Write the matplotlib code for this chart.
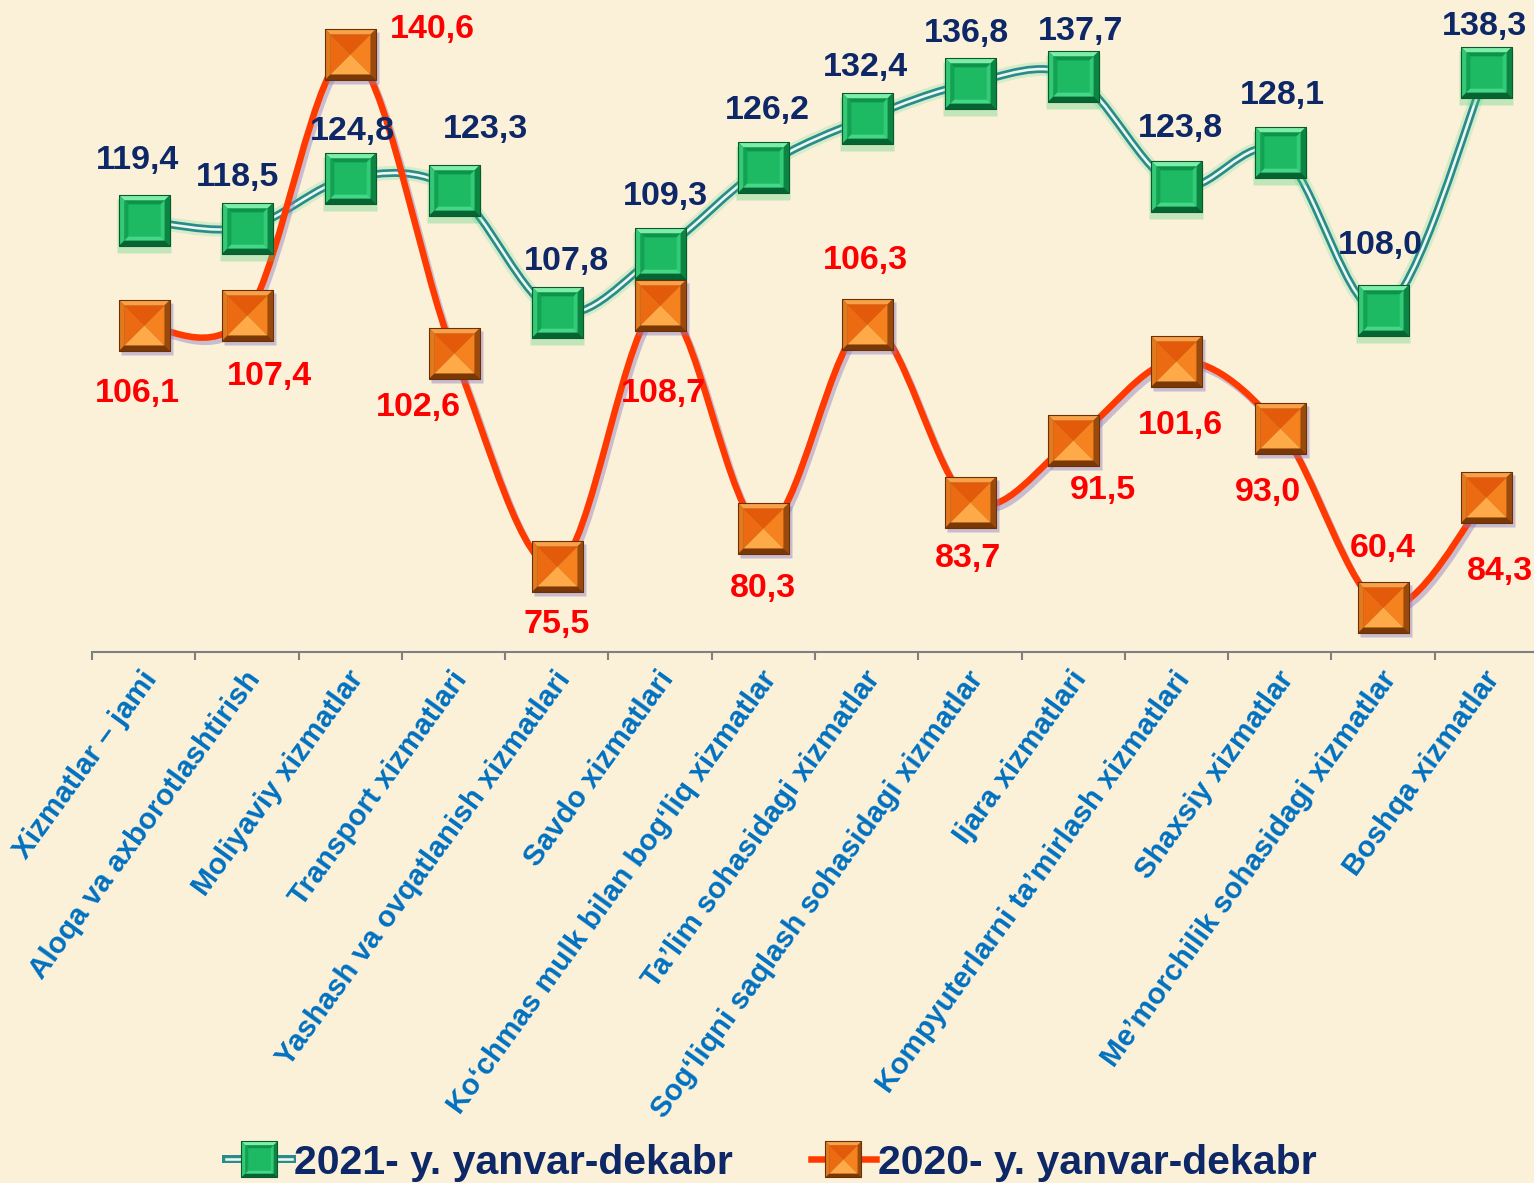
import matplotlib
matplotlib.use("Agg")
import numpy as np
import matplotlib.pyplot as plt
from matplotlib.path import Path
from matplotlib.patches import PathPatch
from matplotlib.lines import Line2D
from matplotlib.legend_handler import HandlerTuple
from matplotlib.transforms import ScaledTranslation
import matplotlib.patheffects as pe

plt.rcParams['font.family'] = ['Liberation Sans', 'DejaVu Sans']

# ---------------- data ----------------
categories = [
    "Xizmatlar – jami",
    "Aloqa va axborotlashtirish",
    "Moliyaviy xizmatlar",
    "Transport xizmatlari",
    "Yashash va ovqatlanish xizmatlari",
    "Savdo xizmatlari",
    "Ko‘chmas mulk bilan bog‘liq xizmatlar",
    "Ta’lim sohasidagi xizmatlar",
    "Sog‘liqni saqlash sohasidagi xizmatlar",
    "Ijara xizmatlari",
    "Kompyuterlarni ta’mirlash xizmatlari",
    "Shaxsiy xizmatlar",
    "Me’morchilik sohasidagi xizmatlar",
    "Boshqa xizmatlar",
]
# plotted positions
values_2021 = [119.4, 118.5, 124.8, 123.3, 107.8, 115.3, 126.2, 132.4, 136.8, 137.7, 123.8, 128.1, 108.0, 138.3]
values_2020 = [106.1, 107.4, 140.6, 102.6, 75.5, 108.7, 80.3, 106.3, 83.7, 91.5, 101.6, 93.0, 70.3, 84.3]
# value labels printed on the chart
labels_2021 = ["119,4", "118,5", "124,8", "123,3", "107,8", "109,3", "126,2", "132,4", "136,8", "137,7", "123,8", "128,1", "108,0", "138,3"]
labels_2020 = ["106,1", "107,4", "140,6", "102,6", "75,5", "108,7", "80,3", "106,3", "83,7", "91,5", "101,6", "93,0", "60,4", "84,3"]
series_names = ["2021- y. yanvar-dekabr", "2020- y. yanvar-dekabr"]

# label offsets in pixels (dx right, dy down)
off_2021 = [(-6, -60), (-9, -50), (2, -46), (32, -60), (10, -50), (5, -56), (4, -56),
            (-1, -51), (-3, -50), (7, -45), (4, -57), (3, -56), (-3, -65), (-2, -45)]
off_2020 = [(-6, 68), (23, 62), (82, -24), (-35, 55), (0, 58), (3, 89), (0, 60),
            (-1, -63), (-2, 57), (30, 50), (4, 65), (-12, 64), (0, -59), (14, 75)]

# ---------------- style ----------------
BG = '#FBF1D9'
NAVY = '#0D2767'
RED = '#FF0000'
BLUE = '#0070C0'
W, H, DPI = 1534, 1183, 100
PT = 72.0 / DPI

fig = plt.figure(figsize=(W / DPI, H / DPI), dpi=DPI, facecolor=BG)
ax = fig.add_axes([92 / W, 1 - 652 / H, (1538 - 92) / W, 652 / H])
ax.set_facecolor('none')
n = len(categories)
x = np.arange(n)
ax.set_xlim(-0.5, n - 0.5)
ax.set_ylim(64.6, 147.4)
for s in ['top', 'right', 'left']:
    ax.spines[s].set_visible(False)
ax.spines['bottom'].set_color('#7F7F7F')
ax.spines['bottom'].set_linewidth(1.5)
ax.set_yticks([])
ax.set_xticks(np.arange(-0.5, n, 1.0))
ax.set_xticklabels([])
ax.tick_params(axis='x', direction='out', length=6, width=1.5, color='#7F7F7F')


def smooth_path(xs, ys):
    P = np.column_stack([xs, ys]).astype(float)
    m = len(P)
    verts = [P[0]]
    codes = [Path.MOVETO]
    for i in range(m - 1):
        p0 = P[i - 1] if i > 0 else P[i]
        p1, p2 = P[i], P[i + 1]
        p3 = P[i + 2] if i + 2 < m else P[i + 1]
        verts += [p1 + (p2 - p0) / 6.0, p2 - (p3 - p1) / 6.0, p2]
        codes += [Path.CURVE4] * 3
    return Path(verts, codes)


def poly(pts):
    pts = list(pts) + [pts[0]]
    return Path(pts, [Path.MOVETO] + [Path.LINETO] * (len(pts) - 2) + [Path.CLOSEPOLY])


b = 0.78
frame = {
    'top': poly([(-1, 1), (1, 1), (b, b), (-b, b)]),
    'bottom': poly([(-1, -1), (1, -1), (b, -b), (-b, -b)]),
    'left': poly([(-1, -1), (-1, 1), (-b, b), (-b, -b)]),
    'right': poly([(1, -1), (1, 1), (b, b), (b, -b)]),
}
c = 0.62
ring = {
    'top': poly([(-b, b), (b, b), (c, c), (-c, c)]),
    'bottom': poly([(-b, -b), (b, -b), (c, -c), (-c, -c)]),
    'left': poly([(-b, -b), (-b, b), (-c, c), (-c, -c)]),
    'right': poly([(b, -b), (b, b), (c, c), (c, -c)]),
}
tri = {
    'top': poly([(-b, b), (b, b), (0, 0)]),
    'bottom': poly([(-b, -b), (b, -b), (0, 0)]),
    'left': poly([(-b, -b), (-b, b), (0, 0)]),
    'right': poly([(b, -b), (b, b), (0, 0)]),
}
square = poly([(-1, -1), (1, -1), (1, 1), (-1, 1)])


def green_layers():
    L = []
    L.append((square, 1.0, '#0E7A3E'))
    L += [(frame['top'], 1.0, '#7EEDAA'), (frame['left'], 1.0, '#35C875'),
          (frame['right'], 1.0, '#0C8542'), (frame['bottom'], 1.0, '#066433')]
    L.append((square, b, '#1CB862'))
    L += [(ring['top'], b, '#0E944A'), (ring['left'], b, '#13A254'),
          (ring['right'], b, '#34CB78'), (ring['bottom'], b, '#46D687')]
    L.append((square, c, '#1DB963'))
    return L, '#0A5A2D'


def orange_layers():
    L = []
    L.append((square, 1.0, '#A2500E'))
    L += [(frame['top'], 1.0, '#F7A24A'), (frame['left'], 1.0, '#E07A1E'),
          (frame['right'], 1.0, '#9A4A0C'), (frame['bottom'], 1.0, '#7A3806')]
    L += [(tri['top'], b, '#E35A0A'), (tri['left'], b, '#EC6A12'),
          (tri['right'], b, '#F5821E'), (tri['bottom'], b, '#FFAA48')]
    return L, '#6B3005'


def draw_markers(xs, ys, layers, outline, ms, z, shadow=None, glow=None):
    if glow is not None:
        tr = ax.transData + ScaledTranslation(0, -6 / DPI, fig.dpi_scale_trans)
        ax.plot(xs, ys, ls='none', marker='s', ms=ms * 1.06, mfc=glow, mec='none',
                alpha=0.3, zorder=z, transform=tr, clip_on=False)
    if shadow is not None:
        tr = ax.transData + ScaledTranslation(3 / DPI, -4 / DPI, fig.dpi_scale_trans)
        ax.plot(xs, ys, ls='none', marker='s', ms=ms * 1.02, mfc=shadow, mec='none',
                alpha=0.45, zorder=z, transform=tr, clip_on=False)
    for path, sc, col in layers:
        ax.plot(xs, ys, ls='none', marker=path, ms=ms * sc, mfc=col, mec='none',
                zorder=z + 0.1, clip_on=False)
    ax.plot(xs, ys, ls='none', marker=square, ms=ms, mfc='none', mec=outline,
            mew=0.8, zorder=z + 0.2, clip_on=False)


MS = 51 * PT

# green line (double line with glow)
gpath = smooth_path(x, values_2021)
ax.add_patch(PathPatch(gpath, fill=False, ec='#7FE3A5', lw=14 * PT, alpha=0.3,
                       zorder=2, capstyle='round', clip_on=False))
ax.add_patch(PathPatch(gpath, fill=False, ec='#2B8A8A', lw=8 * PT, zorder=2.1, clip_on=False))
ax.add_patch(PathPatch(gpath, fill=False, ec='#EAF8EE', lw=2.6 * PT, zorder=2.2, clip_on=False))

# orange line with lavender shadow
opath = smooth_path(x, values_2020)
ax.add_patch(PathPatch(opath, fill=False, ec='#FF3A00', lw=6.5 * PT, zorder=3, clip_on=False,
                       path_effects=[pe.SimpleLineShadow(offset=(2, -3), shadow_color='#8E7CC3',
                                                         alpha=0.45), pe.Normal()]))

gl, go = green_layers()
ol, oo = orange_layers()
draw_markers(x, values_2021, gl, go, MS, 4, glow='#3FCF72')
draw_markers(x, values_2020, ol, oo, MS, 5, shadow='#8E7CC3')

# value labels
for i in range(n):
    dx, dy = off_2021[i]
    ax.annotate(labels_2021[i], (x[i], values_2021[i]), xytext=(dx * PT, -dy * PT),
                textcoords='offset points', ha='center', va='center', fontsize=24.5,
                fontweight='bold', color=NAVY, zorder=10, annotation_clip=False)
    dx, dy = off_2020[i]
    ax.annotate(labels_2020[i], (x[i], values_2020[i]), xytext=(dx * PT, -dy * PT),
                textcoords='offset points', ha='center', va='center', fontsize=24.5,
                fontweight='bold', color=RED, zorder=10, annotation_clip=False)

# category labels
tl = ax.get_xaxis_transform() + ScaledTranslation(8 / DPI, -22 / DPI, fig.dpi_scale_trans)
for i, lab in enumerate(categories):
    ax.text(x[i], 0, lab, transform=tl, rotation=54, rotation_mode='anchor',
            ha='right', va='center', fontsize=21.3, fontweight='bold', color=BLUE)

# legend
LMS = 36 * PT
h21 = [Line2D([], [], color='#2B8A8A', lw=8 * PT), Line2D([], [], color='#EAF8EE', lw=2.6 * PT)]
for path, sc, col in gl:
    h21.append(Line2D([], [], ls='none', marker=path, ms=LMS * sc, mfc=col, mec='none'))
h21.append(Line2D([], [], ls='none', marker=square, ms=LMS, mfc='none', mec=go, mew=0.8))
h20 = [Line2D([], [], color='#FF3A00', lw=6.5 * PT)]
for path, sc, col in ol:
    h20.append(Line2D([], [], ls='none', marker=path, ms=LMS * sc, mfc=col, mec='none'))
h20.append(Line2D([], [], ls='none', marker=square, ms=LMS, mfc='none', mec=oo, mew=0.8))

leg = fig.legend([tuple(h21), tuple(h20)], series_names, loc='lower center',
                 bbox_to_anchor=(0.503, -0.03), ncol=2, frameon=False, numpoints=1,
                 handler_map={tuple: HandlerTuple(ndivide=1, pad=0)},
                 prop={'weight': 'bold', 'size': 29.5}, handlelength=1.6,
                 handletextpad=0.05, columnspacing=1.9)
for t in leg.get_texts():
    t.set_color(NAVY)

fig.savefig('out.png', dpi=DPI, facecolor=BG)
